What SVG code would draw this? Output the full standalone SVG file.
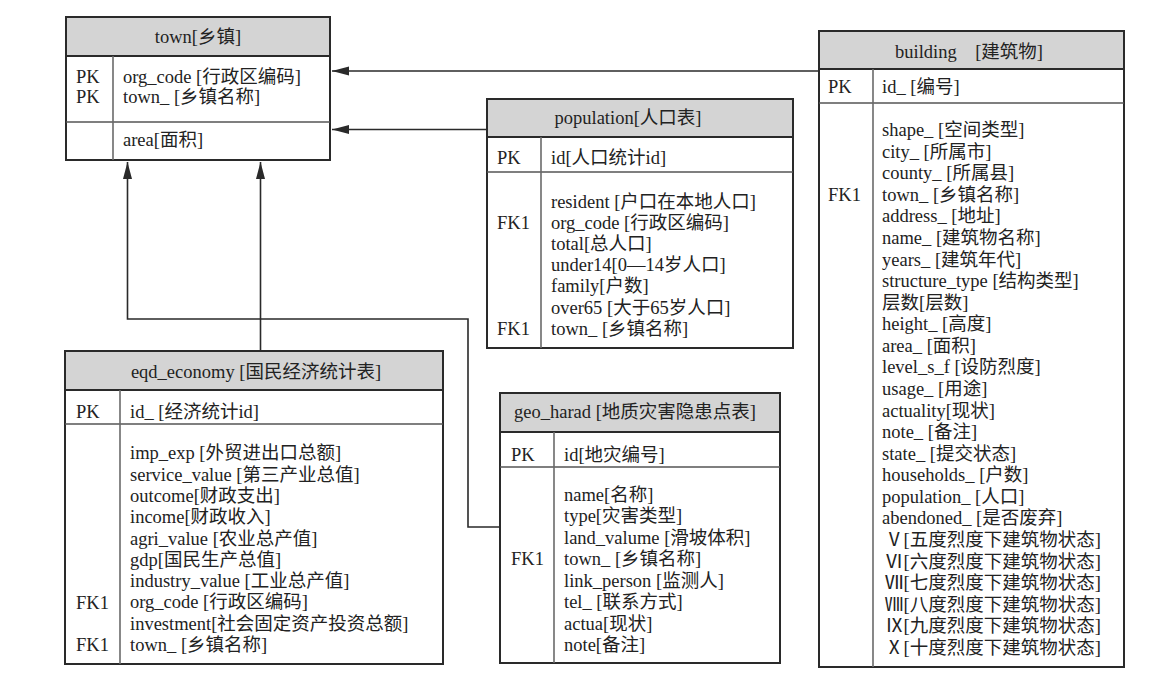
<svg xmlns="http://www.w3.org/2000/svg" width="1170" height="690" viewBox="0 0 1170 690">
<defs>
<style>
.box{fill:#fff;stroke:#2a2a2a;stroke-width:2}
.hd{fill:#d4d4d4;stroke:#2a2a2a;stroke-width:2}
.div{stroke:#555;stroke-width:1.3;fill:none}
.col{stroke:#6a6a6a;stroke-width:1.6;fill:none}
.conn{stroke:#2a2a2a;stroke-width:1.6;fill:none}
text{font-family:"Liberation Serif","Noto Sans CJK SC",serif;font-size:18.5px;fill:#222}
.t{text-anchor:middle}
</style>
<marker id="arr" markerUnits="userSpaceOnUse" markerWidth="18" markerHeight="10" refX="17" refY="4.5" orient="auto">
<path d="M0,0 L17,4.5 L0,9 z" fill="#2a2a2a"/>
</marker>
</defs>
<rect width="1170" height="690" fill="#fff"/>

<g id="connectors">
<path class="conn" d="M819,71 H332" marker-end="url(#arr)"/>
<path class="conn" d="M487,129.5 H332" marker-end="url(#arr)"/>
<path class="conn" d="M260.5,351 V162" marker-end="url(#arr)"/>
<path class="conn" d="M500,527 H468 V319 H127.5 V162" marker-end="url(#arr)"/>
</g>

<g id="town">
<rect class="box" x="66" y="17" width="264" height="143"/>
<rect class="hd" x="66" y="17" width="264" height="39"/>
<line class="div" x1="66" y1="122" x2="330" y2="122"/>
<line class="col" x1="113" y1="56" x2="113" y2="160"/>
<text class="t" x="198" y="43">town[乡镇]</text>
<text x="76" y="83">PK</text>
<text x="76" y="103">PK</text>
<text x="123" y="83">org_code [行政区编码]</text>
<text x="123" y="103">town_ [乡镇名称]</text>
<text x="123" y="146">area[面积]</text>
</g>

<g id="population">
<rect class="box" x="487" y="99" width="306" height="249"/>
<rect class="hd" x="487" y="99" width="306" height="38"/>
<line class="div" x1="487" y1="172" x2="793" y2="172"/>
<line class="col" x1="541" y1="137" x2="541" y2="348"/>
<text class="t" x="628" y="124">population[人口表]</text>
<text x="497" y="164">PK</text>
<text x="551" y="164">id[人口统计id]</text>
<text x="497" y="228.7">FK1</text>
<text x="497" y="334.7">FK1</text>
<text x="551" y="207.5">resident [户口在本地人口]</text>
<text x="551" y="228.7">org_code [行政区编码]</text>
<text x="551" y="249.9">total[总人口]</text>
<text x="551" y="271.1">under14[0—14岁人口]</text>
<text x="551" y="292.3">family[户数]</text>
<text x="551" y="313.5">over65 [大于65岁人口]</text>
<text x="551" y="334.7">town_ [乡镇名称]</text>
</g>

<g id="building">
<rect class="box" x="819" y="31" width="305" height="636"/>
<rect class="hd" x="819" y="31" width="305" height="38"/>
<line class="div" x1="819" y1="103" x2="1124" y2="103"/>
<line class="col" x1="873" y1="69" x2="873" y2="667"/>
<text class="t" x="969" y="57.7">building&#160;&#160;&#160; [建筑物]</text>
<text x="828" y="92.7">PK</text>
<text x="882" y="92.7">id_ [编号]</text>
<text x="828" y="200.7">FK1</text>
<text x="882" y="136">shape_ [空间类型]</text>
<text x="882" y="157.6">city_ [所属市]</text>
<text x="882" y="179.2">county_ [所属县]</text>
<text x="882" y="200.7">town_ [乡镇名称]</text>
<text x="882" y="222.3">address_ [地址]</text>
<text x="882" y="243.9">name_ [建筑物名称]</text>
<text x="882" y="265.5">years_ [建筑年代]</text>
<text x="882" y="287.1">structure_type [结构类型]</text>
<text x="882" y="308.6">层数[层数]</text>
<text x="882" y="330.2">height_ [高度]</text>
<text x="882" y="351.8">area_ [面积]</text>
<text x="882" y="373.4">level_s_f [设防烈度]</text>
<text x="882" y="395">usage_ [用途]</text>
<text x="882" y="416.5">actuality[现状]</text>
<text x="882" y="438.1">note_ [备注]</text>
<text x="882" y="459.7">state_ [提交状态]</text>
<text x="882" y="481.3">households_ [户数]</text>
<text x="882" y="502.9">population_ [人口]</text>
<text x="882" y="524.4">abendoned_ [是否废弃]</text>
<text x="885" y="546">Ⅴ[五度烈度下建筑物状态]</text>
<text x="885" y="567.6">Ⅵ[六度烈度下建筑物状态]</text>
<text x="885" y="589.2">Ⅶ[七度烈度下建筑物状态]</text>
<text x="885" y="610.8">Ⅷ[八度烈度下建筑物状态]</text>
<text x="885" y="632.4">Ⅸ[九度烈度下建筑物状态]</text>
<text x="885" y="654">Ⅹ[十度烈度下建筑物状态]</text>
</g>

<g id="eqd_economy">
<rect class="box" x="65" y="351" width="378" height="313"/>
<rect class="hd" x="65" y="351" width="378" height="39"/>
<line class="div" x1="65" y1="424" x2="443" y2="424"/>
<line class="col" x1="120" y1="390" x2="120" y2="664"/>
<text class="t" x="256" y="377.7">eqd_economy [国民经济统计表]</text>
<text x="76" y="417.7">PK</text>
<text x="130" y="417.7">id_ [经济统计id]</text>
<text x="76" y="608.7">FK1</text>
<text x="76" y="651">FK1</text>
<text x="130" y="459.3">imp_exp [外贸进出口总额]</text>
<text x="130" y="480.6">service_value [第三产业总值]</text>
<text x="130" y="501.9">outcome[财政支出]</text>
<text x="130" y="523.2">income[财政收入]</text>
<text x="130" y="544.5">agri_value [农业总产值]</text>
<text x="130" y="565.8">gdp[国民生产总值]</text>
<text x="130" y="587.1">industry_value [工业总产值]</text>
<text x="130" y="608.4">org_code [行政区编码]</text>
<text x="130" y="629.7">investment[社会固定资产投资总额]</text>
<text x="130" y="651">town_ [乡镇名称]</text>
</g>

<g id="geo_harad">
<rect class="box" x="500" y="393" width="280" height="270"/>
<rect class="hd" x="500" y="393" width="280" height="39"/>
<line class="div" x1="500" y1="467" x2="780" y2="467"/>
<line class="col" x1="554" y1="432" x2="554" y2="663"/>
<text class="t" x="635" y="417.7">geo_harad [地质灾害隐患点表]</text>
<text x="511" y="461">PK</text>
<text x="564" y="461">id[地灾编号]</text>
<text x="511" y="565.3">FK1</text>
<text x="564" y="501">name[名称]</text>
<text x="564" y="522.4">type[灾害类型]</text>
<text x="564" y="543.9">land_valume [滑坡体积]</text>
<text x="564" y="565.3">town_ [乡镇名称]</text>
<text x="564" y="586.7">link_person [监测人]</text>
<text x="564" y="608.1">tel_ [联系方式]</text>
<text x="564" y="629.6">actua[现状]</text>
<text x="564" y="651">note[备注]</text>
</g>
</svg>
